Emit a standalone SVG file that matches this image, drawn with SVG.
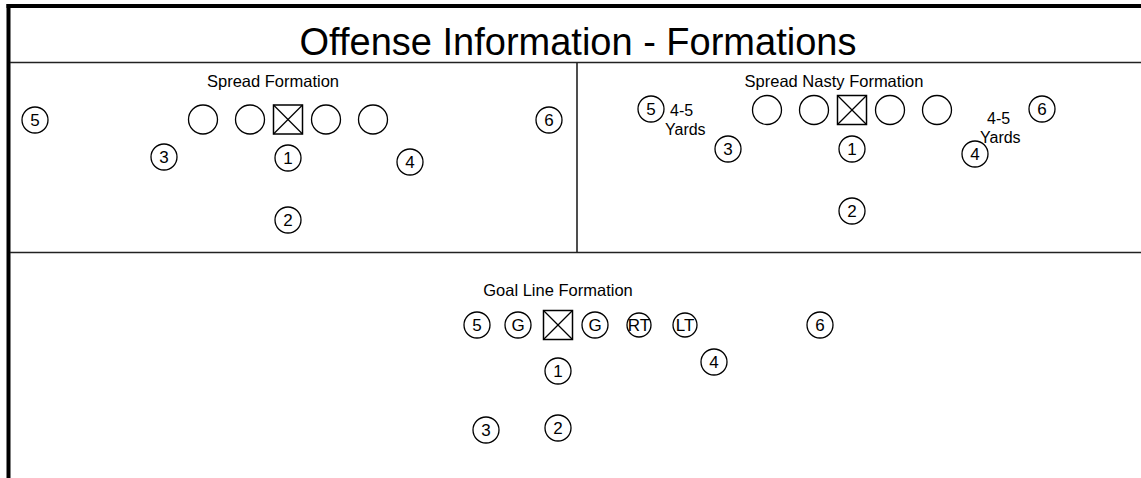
<svg xmlns="http://www.w3.org/2000/svg" width="1141" height="478" viewBox="0 0 1141 478">
  <style>
    .frame { stroke: #000; stroke-width: 4; fill: none; }
    .divider { stroke: #222; stroke-width: 1.6; fill: none; }
    .player { fill: #fff; stroke: #000; stroke-width: 1.3; }
    .center-box { fill: #fff; stroke: #000; stroke-width: 1.5; }
    .center-x { stroke: #000; stroke-width: 1.2; }
    text { font-family: "Liberation Sans", Arial, sans-serif; fill: #000; }
    .title { font-size: 38px; text-anchor: middle; }
    .label { font-size: 16.5px; text-anchor: middle; }
    .num { font-size: 17px; text-anchor: middle; }
    .note { font-size: 16px; }
  </style>
  <defs>
    <g id="center">
      <rect class="center-box" x="-14.5" y="-14.5" width="29" height="29"/>
      <line class="center-x" x1="-14.5" y1="-14.5" x2="14.5" y2="14.5"/>
      <line class="center-x" x1="14.5" y1="-14.5" x2="-14.5" y2="14.5"/>
    </g>
  </defs>

  <rect width="1141" height="478" fill="#fff"/>

  <!-- frame and panel dividers -->
  <g id="connectors">
    <line class="frame" x1="6.5" y1="6" x2="1141" y2="6"/>
    <line class="frame" x1="8.5" y1="4" x2="8.5" y2="478"/>
    <line class="divider" x1="10" y1="62.5" x2="1141" y2="62.5"/>
    <line class="divider" x1="577" y1="62.5" x2="577" y2="252.5"/>
    <line class="divider" x1="10" y1="252.5" x2="1141" y2="252.5"/>
  </g>

  <text id="title" class="title" x="578" y="54.5">Offense Information - Formations</text>

  <!-- Spread formation -->
  <g id="spread">
    <text class="label" x="273" y="87">Spread Formation</text>
    <g id="spread-5"><circle class="player" cx="35" cy="120" r="13"/><text class="num" x="35" y="126">5</text></g>
    <g id="spread-lt"><circle class="player" cx="203" cy="119.5" r="14.5"/></g>
    <g id="spread-lg"><circle class="player" cx="250" cy="119.5" r="14.5"/></g>
    <g id="spread-c"><use href="#center" x="288" y="119.5"/></g>
    <g id="spread-rg"><circle class="player" cx="326" cy="119.5" r="14.5"/></g>
    <g id="spread-rt"><circle class="player" cx="373" cy="119.5" r="14.5"/></g>
    <g id="spread-6"><circle class="player" cx="549" cy="120" r="13"/><text class="num" x="549" y="126">6</text></g>
    <g id="spread-3"><circle class="player" cx="164" cy="157" r="13"/><text class="num" x="164" y="163">3</text></g>
    <g id="spread-1"><circle class="player" cx="288" cy="158" r="13"/><text class="num" x="288" y="164">1</text></g>
    <g id="spread-4"><circle class="player" cx="410" cy="162" r="13"/><text class="num" x="410" y="168">4</text></g>
    <g id="spread-2"><circle class="player" cx="288" cy="220" r="13"/><text class="num" x="288" y="226">2</text></g>
  </g>

  <!-- Spread nasty formation -->
  <g id="nasty">
    <text class="label" x="834" y="87">Spread Nasty Formation</text>
    <g id="nasty-5"><circle class="player" cx="651" cy="109" r="13"/><text class="num" x="651" y="115">5</text></g>
    <text class="note" x="670" y="116">4-5</text>
    <text class="note" x="665" y="135">Yards</text>
    <g id="nasty-lt"><circle class="player" cx="767" cy="110" r="14.5"/></g>
    <g id="nasty-lg"><circle class="player" cx="814" cy="110" r="14.5"/></g>
    <g id="nasty-c"><use href="#center" x="852" y="110"/></g>
    <g id="nasty-rg"><circle class="player" cx="890" cy="110" r="14.5"/></g>
    <g id="nasty-rt"><circle class="player" cx="937" cy="110" r="14.5"/></g>
    <g id="nasty-6"><circle class="player" cx="1042" cy="109" r="13"/><text class="num" x="1042" y="115">6</text></g>
    <g id="nasty-3"><circle class="player" cx="728" cy="149" r="13"/><text class="num" x="728" y="155">3</text></g>
    <g id="nasty-1"><circle class="player" cx="852" cy="149" r="13"/><text class="num" x="852" y="155">1</text></g>
    <g id="nasty-4"><circle class="player" cx="975" cy="154" r="13"/><text class="num" x="975" y="160">4</text></g>
    <text class="note" x="987" y="124">4-5</text>
    <text class="note" x="980" y="143">Yards</text>
    <g id="nasty-2"><circle class="player" cx="852" cy="211" r="13"/><text class="num" x="852" y="217">2</text></g>
  </g>

  <!-- Goal line formation -->
  <g id="goal-line">
    <text class="label" x="558" y="296">Goal Line Formation</text>
    <g id="goal-5"><circle class="player" cx="477" cy="325" r="13"/><text class="num" x="477" y="331">5</text></g>
    <g id="goal-lg"><circle class="player" cx="518" cy="325" r="13"/><text class="num" x="518" y="331">G</text></g>
    <g id="goal-c"><use href="#center" x="558" y="325"/></g>
    <g id="goal-rg"><circle class="player" cx="595" cy="325" r="13"/><text class="num" x="595" y="331">G</text></g>
    <g id="goal-rt"><circle class="player" cx="639" cy="325" r="12"/><text class="num" x="639" y="331">RT</text></g>
    <g id="goal-lt"><circle class="player" cx="685" cy="325" r="12"/><text class="num" x="685" y="331">LT</text></g>
    <g id="goal-6"><circle class="player" cx="820" cy="325" r="13"/><text class="num" x="820" y="331">6</text></g>
    <g id="goal-4"><circle class="player" cx="714" cy="362" r="13"/><text class="num" x="714" y="368">4</text></g>
    <g id="goal-1"><circle class="player" cx="558" cy="371" r="13"/><text class="num" x="558" y="377">1</text></g>
    <g id="goal-3"><circle class="player" cx="486" cy="430" r="13"/><text class="num" x="486" y="436">3</text></g>
    <g id="goal-2"><circle class="player" cx="558" cy="428" r="13"/><text class="num" x="558" y="434">2</text></g>
  </g>
</svg>
